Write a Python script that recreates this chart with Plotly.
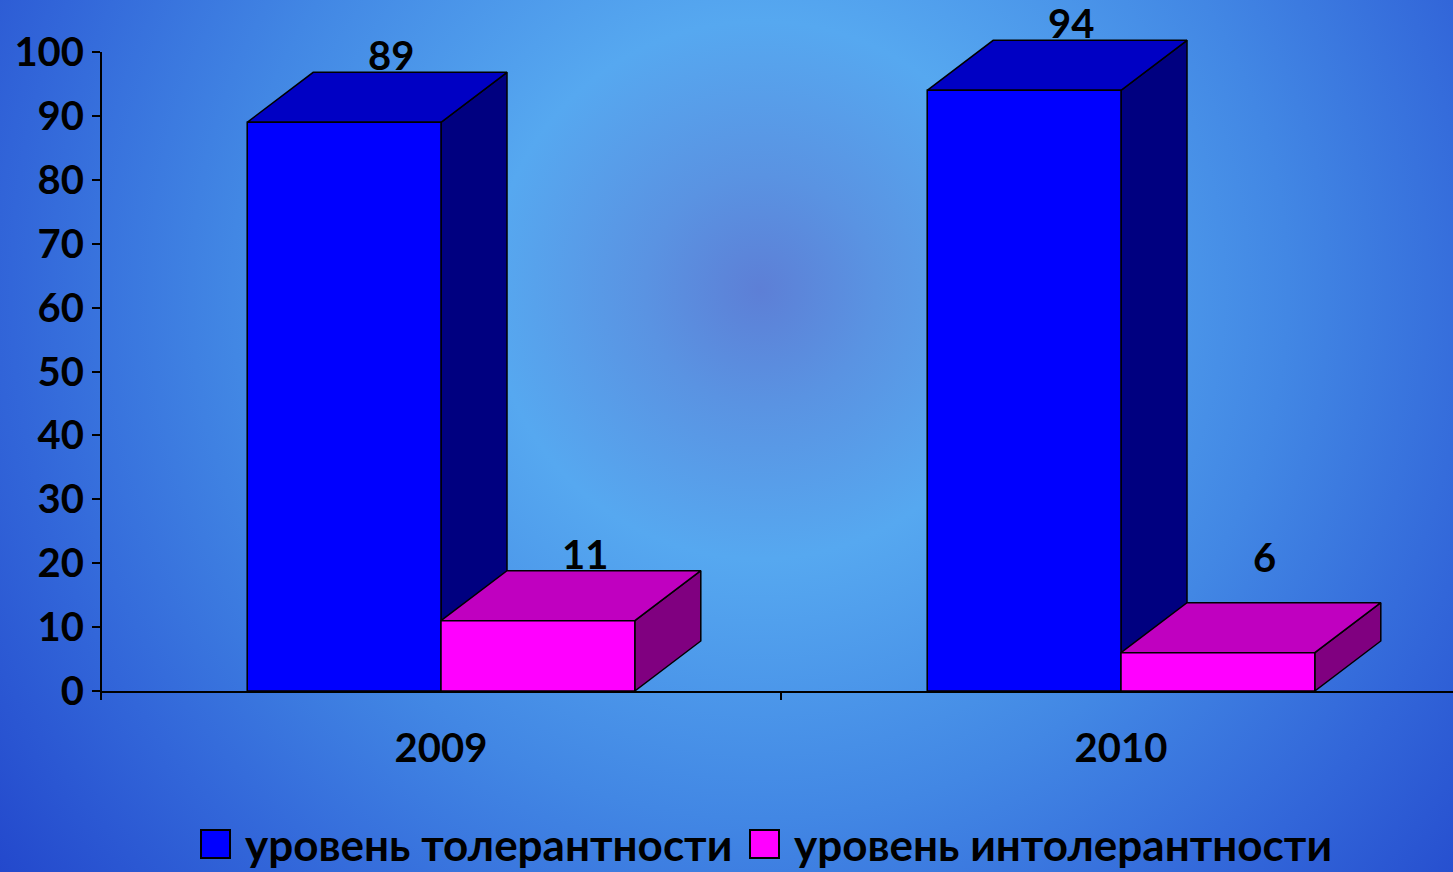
import base64
import plotly.graph_objects as go

# ---------------- data ----------------
categories = ["2009", "2010"]
series_names = ["уровень толерантности", "уровень интолерантности"]
tolerance = [89, 94]
intolerance = [11, 6]
y_ticks = list(range(0, 101, 10))

series_values = [tolerance, intolerance]
front_colors = ["#0000FF", "#FF00FF"]
top_colors = ["#0000C4", "#C000C0"]
side_colors = ["#000080", "#800080"]

# ---------------- geometry (page layout) ----------------
W, H = 1453, 872
ML, MR, MT, MB = 101, 0, 0, 181
PW, PH = W - ML - MR, H - MT - MB
PX_PER_CAT = 680.0
PX_PER_UNIT = 6.39
x_max = PW / PX_PER_CAT
y_max = PH / PX_PER_UNIT

bar_w = 0.285
depth_x = 66 / PX_PER_CAT
depth_y = 50 / PX_PER_UNIT
label_floor = 10.5  # data labels of very short bars sit no lower than this

FONT = "Lato, 'Open Sans', 'DejaVu Sans', sans-serif"

fig = go.Figure()
annotations = []

for ci, cat in enumerate(categories):
    for si, vals in enumerate(series_values):
        v = vals[ci]
        x0 = ci + 0.5 - bar_w + si * bar_w
        x1 = x0 + bar_w
        faces = [
            ([x1, x1 + depth_x, x1 + depth_x, x1, x1], [0, depth_y, v + depth_y, v, 0], side_colors[si]),
            ([x0, x1, x1 + depth_x, x0 + depth_x, x0], [v, v, v + depth_y, v + depth_y, v], top_colors[si]),
            ([x0, x1, x1, x0, x0], [0, 0, v, v, 0], front_colors[si]),
        ]
        for fx, fy, col in faces:
            fig.add_trace(go.Scatter(
                x=fx, y=fy, mode="lines", fill="toself", fillcolor=col,
                line=dict(color="black", width=1.5), hoverinfo="skip",
                showlegend=False,
            ))
        annotations.append(dict(
            x=(x0 + x1) / 2 + depth_x / 2, y=max(v, label_floor) + depth_y,
            xref="x", yref="y",
            text=str(v), showarrow=False, yshift=17, xshift=14,
            font=dict(family=FONT, size=40, color="black", weight="bold"),
        ))


def px_x(px):
    return (px - ML) / PW


def px_y(py):
    return (H - MB - py) / PH


# custom legend (large square swatches)
legend_items = [(201, 243), (750, 792)]
shapes = []
for (sx, tx), name, col in zip(legend_items, series_names, front_colors):
    shapes.append(dict(type="rect", xref="paper", yref="paper",
                       x0=px_x(sx), x1=px_x(sx + 29), y0=px_y(858), y1=px_y(830),
                       fillcolor=col, line=dict(color="black", width=2)))
    annotations.append(dict(x=px_x(tx), y=px_y(844), xref="paper", yref="paper",
                            xanchor="left", yanchor="middle", text=name, showarrow=False,
                            font=dict(family=FONT, size=44, color="black", weight="bold")))

# y axis line (0..100, slightly below zero)
shapes.append(dict(type="line", xref="paper", yref="paper", x0=0, x1=0,
                   y0=px_y(698), y1=100 / y_max, line=dict(color="black", width=2)))

# background radial gradient
svg = f'''<svg xmlns="http://www.w3.org/2000/svg" width="{W}" height="{H}">
<defs><radialGradient id="g" gradientUnits="userSpaceOnUse" cx="760" cy="290" r="960">
<stop offset="0" stop-color="#5d7fd6"/>
<stop offset="0.12" stop-color="#5a93e2"/>
<stop offset="0.28" stop-color="#56a8f0"/>
<stop offset="0.55" stop-color="#4287e4"/>
<stop offset="0.78" stop-color="#3266d9"/>
<stop offset="1" stop-color="#2348cc"/>
</radialGradient></defs>
<rect width="{W}" height="{H}" fill="url(#g)"/></svg>'''
src = "data:image/svg+xml;base64," + base64.b64encode(svg.encode()).decode()

fig.update_layout(
    width=W, height=H,
    margin=dict(l=ML, r=MR, t=MT, b=MB),
    paper_bgcolor="#3a70dc", plot_bgcolor="rgba(0,0,0,0)",
    showlegend=False,
    annotations=annotations,
    shapes=shapes,
    images=[dict(source=src, xref="paper", yref="paper", x=-ML / PW, y=1 + MT / PH,
                 sizex=W / PW, sizey=H / PH, xanchor="left", yanchor="top",
                 sizing="stretch", layer="below")],
    xaxis=dict(range=[0, x_max], showgrid=False, zeroline=False,
               showline=True, linecolor="black", linewidth=2,
               tickmode="array", tickvals=[0.5, 1.5], ticktext=categories, ticks="",
               ticklabelstandoff=21,
               tickfont=dict(family=FONT, size=40, color="black", weight="bold"),
               minor=dict(tickmode="array", tickvals=[0, 1, 2], ticks="outside",
                          ticklen=7, tickwidth=2, tickcolor="black"),
               fixedrange=True),
    yaxis=dict(range=[0, y_max], showgrid=False, zeroline=False, showline=False,
               tickmode="array", tickvals=y_ticks, ticks="outside", ticklen=8,
               tickwidth=2, tickcolor="black", ticklabelstandoff=0,
               tickfont=dict(family=FONT, size=40, color="black", weight="bold"),
               fixedrange=True),
)

fig.write_html("out.html", config={"displayModeBar": False},
               post_script="document.body.style.margin='0';")
